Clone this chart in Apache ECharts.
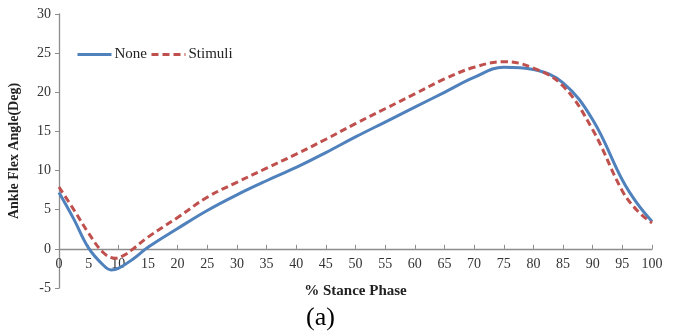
<!DOCTYPE html>
<html>
<head>
<meta charset="utf-8">
<script src="https://cdn.jsdelivr.net/npm/echarts@6/dist/echarts.min.js"></script>
<style>
html,body{margin:0;padding:0;background:#fff;}
#main{width:675px;height:336px;}
</style>
</head>
<body>
<div id="main"></div>
<script>
var xNone = [0, 2.5, 5, 7.5, 8.8, 10, 12.5, 15, 20, 25, 30, 35, 40, 45, 50, 55, 60, 65, 70, 75, 80, 85, 90, 95, 97.5, 100];
var yNone = [7.2, 3.8, 0.1, -2.1, -2.7, -2.5, -1.3, 0.2, 2.6, 4.9, 6.9, 8.7, 10.4, 12.3, 14.3, 16.2, 18.1, 20.0, 21.9, 23.2, 22.9, 21.2, 16.5, 8.8, 5.8, 3.5];
var xStim = [0, 2.5, 5, 7.5, 9.5, 11, 12.5, 15, 20, 25, 30, 35, 40, 45, 50, 55, 60, 65, 70, 75, 80, 85, 90, 95, 97.5, 100];
var yStim = [7.9, 5.0, 2.0, -0.5, -1.2, -0.8, 0.0, 1.5, 4.0, 6.6, 8.5, 10.3, 12.1, 14.0, 16.0, 17.9, 19.8, 21.7, 23.2, 23.9, 23.1, 20.8, 15.2, 7.4, 4.9, 3.3];
var seriesNames = ['None', 'Stimuli'];
var xTitle = '% Stance Phase';
var yTitle = 'Ankle Flex Angle(Deg)';
var caption = '(a)';
var yMin = -5, yMax = 30;

function pairs(xs, ys){ return xs.map(function(x,i){ return [x, ys[i]]; }); }

var font = 'Liberation Serif';
var gridTop = 14, gridBottom = 48, H = 336;
var plotH = H - gridTop - gridBottom;
var zeroOffset = -plotH * (0 - yMin) / (yMax - yMin);

var chart = echarts.init(document.getElementById('main'), null, {renderer:'canvas'});
chart.setOption({
  animation: false,
  backgroundColor: '#fff',
  title: {
    text: caption, left: 306, top: 305, padding: 0,
    textStyle: {fontFamily: font, fontSize: 26, fontWeight: 'normal', color: '#000'}
  },
  legend: {
    left: 76, top: 47, padding: 0, itemWidth: 34, itemHeight: 10, itemGap: 3,
    itemStyle: {opacity: 0},
    lineStyle: {width: 3},
    textStyle: {fontFamily: font, fontSize: 15, color: '#222', padding: [0,0,0,-2]},
    data: seriesNames
  },
  grid: {left: 59, right: 23, top: gridTop, bottom: gridBottom, containLabel: false, outerBoundsMode: 'none'},
  xAxis: {
    type: 'value', min: 0, max: 100, interval: 5,
    position: 'bottom', offset: zeroOffset,
    name: xTitle, nameLocation: 'middle', nameGap: 35,
    nameTextStyle: {fontFamily: font, fontSize: 15, fontWeight: 'bold', color: '#222'},
    axisLine: {onZero: false, lineStyle: {color: '#8c8c8c', width: 1.3}},
    axisTick: {inside: true, length: 4, lineStyle: {color: '#8c8c8c'}},
    axisLabel: {fontFamily: font, fontSize: 14, color: '#333', margin: 8},
    splitLine: {show: false}
  },
  yAxis: {
    type: 'value', min: yMin, max: yMax, interval: 5,
    name: yTitle, nameLocation: 'middle', nameGap: 38, nameRotate: 90,
    nameTextStyle: {fontFamily: font, fontSize: 14, fontWeight: 'bold', color: '#222'},
    axisLine: {show: true, onZero: false, lineStyle: {color: '#8c8c8c', width: 1.3}},
    axisTick: {show: true, length: 4, lineStyle: {color: '#8c8c8c'}},
    axisLabel: {fontFamily: font, fontSize: 14, color: '#333', margin: 8},
    splitLine: {show: false}
  },
  series: [
    {
      name: seriesNames[0], type: 'line', smooth: 0.4, symbol: 'none',
      data: pairs(xNone, yNone),
      lineStyle: {color: '#4F81BD', width: 3}, itemStyle: {color: '#4F81BD'}
    },
    {
      name: seriesNames[1], type: 'line', smooth: 0.4, symbol: 'none',
      data: pairs(xStim, yStim),
      lineStyle: {color: '#C0504D', width: 3, type: [7, 4]}, itemStyle: {color: '#C0504D'}
    }
  ]
});
</script>
</body>
</html>
